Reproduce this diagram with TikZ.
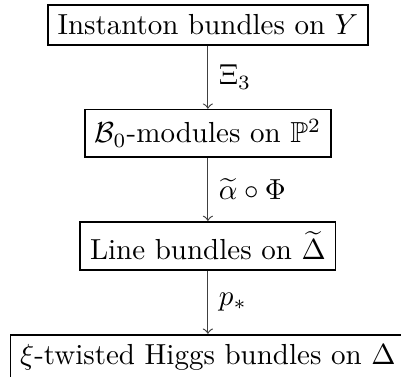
\documentclass[tikz,border=0pt]{standalone}
\usepackage{amssymb}
\usetikzlibrary{positioning}
\begin{document}
\begin{tikzpicture}[
  box/.style={draw, line width=0.6pt, inner sep=3.33pt},
  arr/.style={->, line width=0.4pt, draw=black!75},
  lab/.style={right, inner sep=3.6pt}
]
\useasboundingbox (-71.7pt,0pt) rectangle (66.6pt,-130pt);
\node[box, anchor=north] (a) at (0pt,-1.4pt) {Instanton bundles on $Y$};
\node[box, below=21.8pt of a] (b) {$\mathcal{B}_0$-modules on $\mathbb{P}^2$};
\node[box, below=21.8pt of b] (c) {Line bundles on $\widetilde{\Delta}$};
\node[box, below=21.8pt of c] (d) {$\xi$-twisted Higgs bundles on $\Delta$};
\draw[arr] (a) -- node[lab] {$\Xi_3$} (b);
\draw[arr] (b) -- node[lab] {$\widetilde{\alpha}\circ\Phi$} (c);
\draw[arr] (c) -- node[lab] {$p_*$} (d);
\end{tikzpicture}
\end{document}
